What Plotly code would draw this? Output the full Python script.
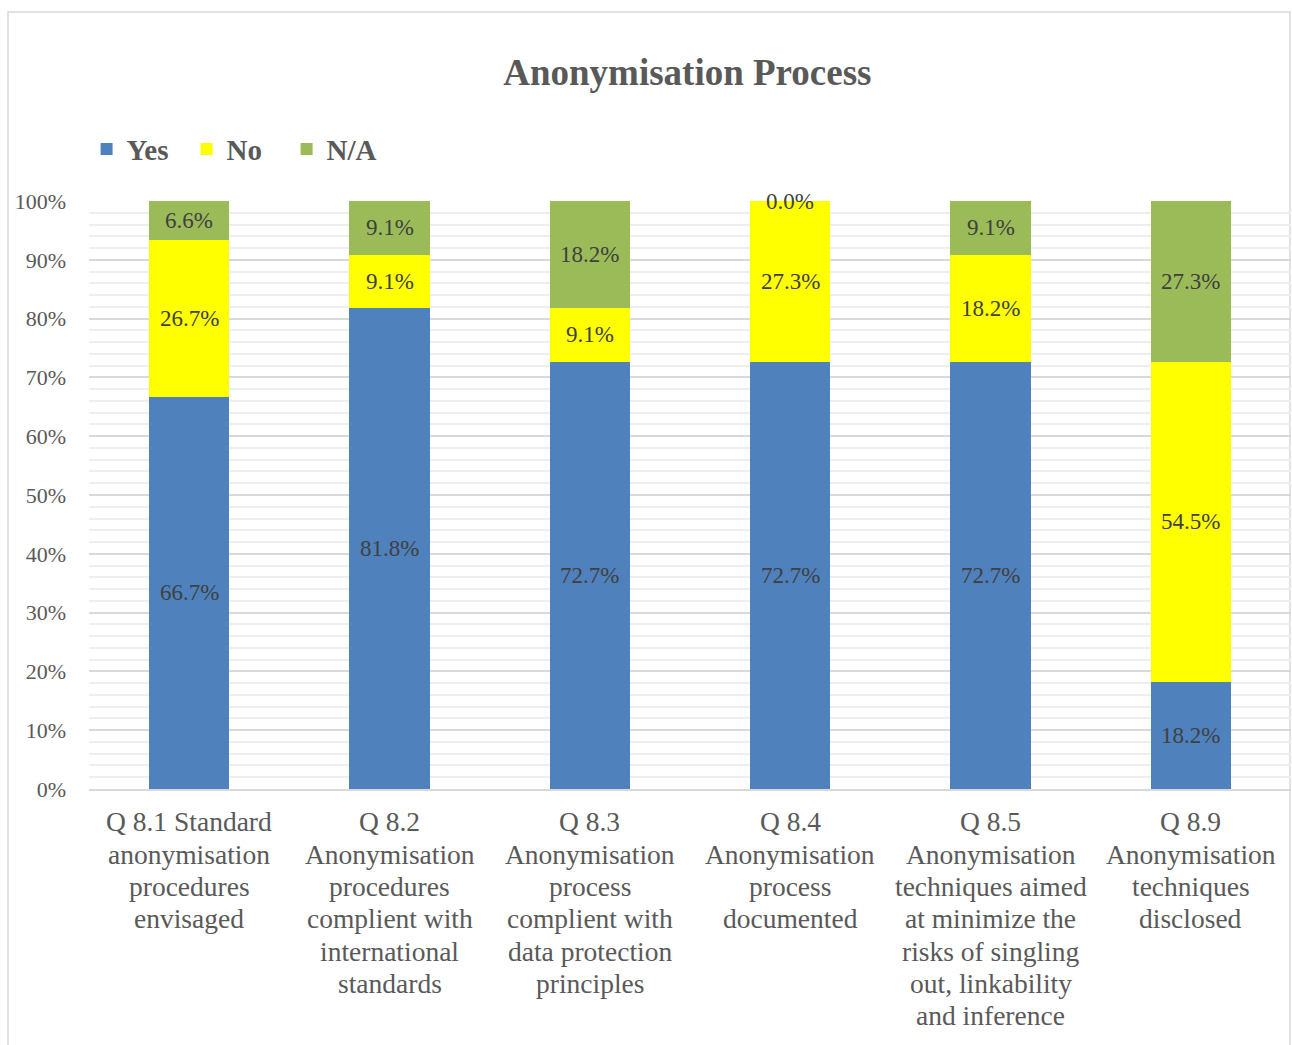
import plotly.graph_objects as go

# Survey results for the anonymisation questions (percent of respondents)
categories = [
    "Q 8.1 Standard<br>anonymisation<br>procedures<br>envisaged",
    "Q 8.2<br>Anonymisation<br>procedures<br>complient with<br>international<br>standards",
    "Q 8.3<br>Anonymisation<br>process<br>complient with<br>data protection<br>principles",
    "Q 8.4<br>Anonymisation<br>process<br>documented",
    "Q 8.5<br>Anonymisation<br>techniques aimed<br>at minimize the<br>risks of singling<br>out, linkability<br>and inference",
    "Q 8.9<br>Anonymisation<br>techniques<br>disclosed",
]
yes_vals = [66.7, 81.8, 72.7, 72.7, 72.7, 18.2]
no_vals = [26.7, 9.1, 9.1, 27.3, 18.2, 54.5]
na_vals = [6.6, 9.1, 18.2, 0.0, 9.1, 27.3]

series = [
    ("Yes", yes_vals, "#4F81BD"),
    ("No", no_vals, "#FFFF00"),
    ("N/A", na_vals, "#9BBB59"),
]

SERIF = "Liberation Serif, Times New Roman, serif"
TEXT_GREY = "#595959"
LABEL_GREY = "#404040"

PLOT_H = 588          # plot-area height in px
LINE_STEP = 32.3      # line spacing of the category labels in px
FIRST_LINE = 33       # distance from the axis to the first label line in px

fig = go.Figure()
for name, vals, color in series:
    fig.add_trace(go.Bar(
        x=categories, y=vals, name=f"<b>{name}</b>",
        marker=dict(color=color, line=dict(width=0)),
    ))

annotations = []

# Value labels centred in each stacked segment (zero-height segments included)
base = [0.0] * len(categories)
for name, vals, color in series:
    for i, v in enumerate(vals):
        annotations.append(dict(
            x=categories[i], y=base[i] + v / 2, xref="x", yref="y",
            text=f"{v:.1f}%", showarrow=False,
            font=dict(family=SERIF, size=23, color=LABEL_GREY),
        ))
        base[i] += v

# Category labels, one line per annotation for tighter line spacing
for cat in categories:
    for k, line in enumerate(cat.split("<br>")):
        annotations.append(dict(
            x=cat, y=-(FIRST_LINE + k * LINE_STEP) / PLOT_H,
            xref="x", yref="paper", yanchor="middle",
            text=line, showarrow=False,
            font=dict(family=SERIF, size=27.5, color=TEXT_GREY),
        ))

fig.update_layout(
    width=1292, height=1045,
    margin=dict(l=89, r=1, t=201, b=256),
    barmode="stack", bargap=0.6,
    paper_bgcolor="white", plot_bgcolor="white",
    font=dict(family=SERIF, color=TEXT_GREY),
    title=dict(
        text="<b>Anonymisation Process</b>",
        x=0.532, xref="container", xanchor="center",
        y=1 - 72 / 1045, yref="container", yanchor="middle",
        font=dict(family=SERIF, size=37, color=TEXT_GREY),
    ),
    legend=dict(
        orientation="h", x=-0.002, xanchor="left",
        y=1.088, yanchor="middle",
        font=dict(family=SERIF, size=29, color=TEXT_GREY),
        itemwidth=30, traceorder="normal",
        entrywidth=55, entrywidthmode="pixels",
    ),
    annotations=annotations,
    shapes=[dict(
        type="rect", xref="paper", yref="paper",
        x0=(8 - 89) / 1202, x1=(1290 - 89) / 1202,
        y0=-0.6, y1=(789 - 12) / PLOT_H,
        line=dict(color="#D9D9D9", width=1.5), fillcolor="rgba(0,0,0,0)",
        layer="below",
    )],
)

fig.update_yaxes(
    range=[0, 100], dtick=10, ticksuffix="%",
    showgrid=True, gridcolor="#D9D9D9", gridwidth=1.5,
    minor=dict(dtick=2, showgrid=True, gridcolor="#EEEEEE", gridwidth=1.5),
    zeroline=False, showline=False,
    tickfont=dict(family=SERIF, size=22, color=TEXT_GREY),
    ticklabelstandoff=22,
)
fig.update_xaxes(
    showline=True, linecolor="#D9D9D9", linewidth=1.5,
    showticklabels=False, ticks="",
)

fig.write_html("out.html")
